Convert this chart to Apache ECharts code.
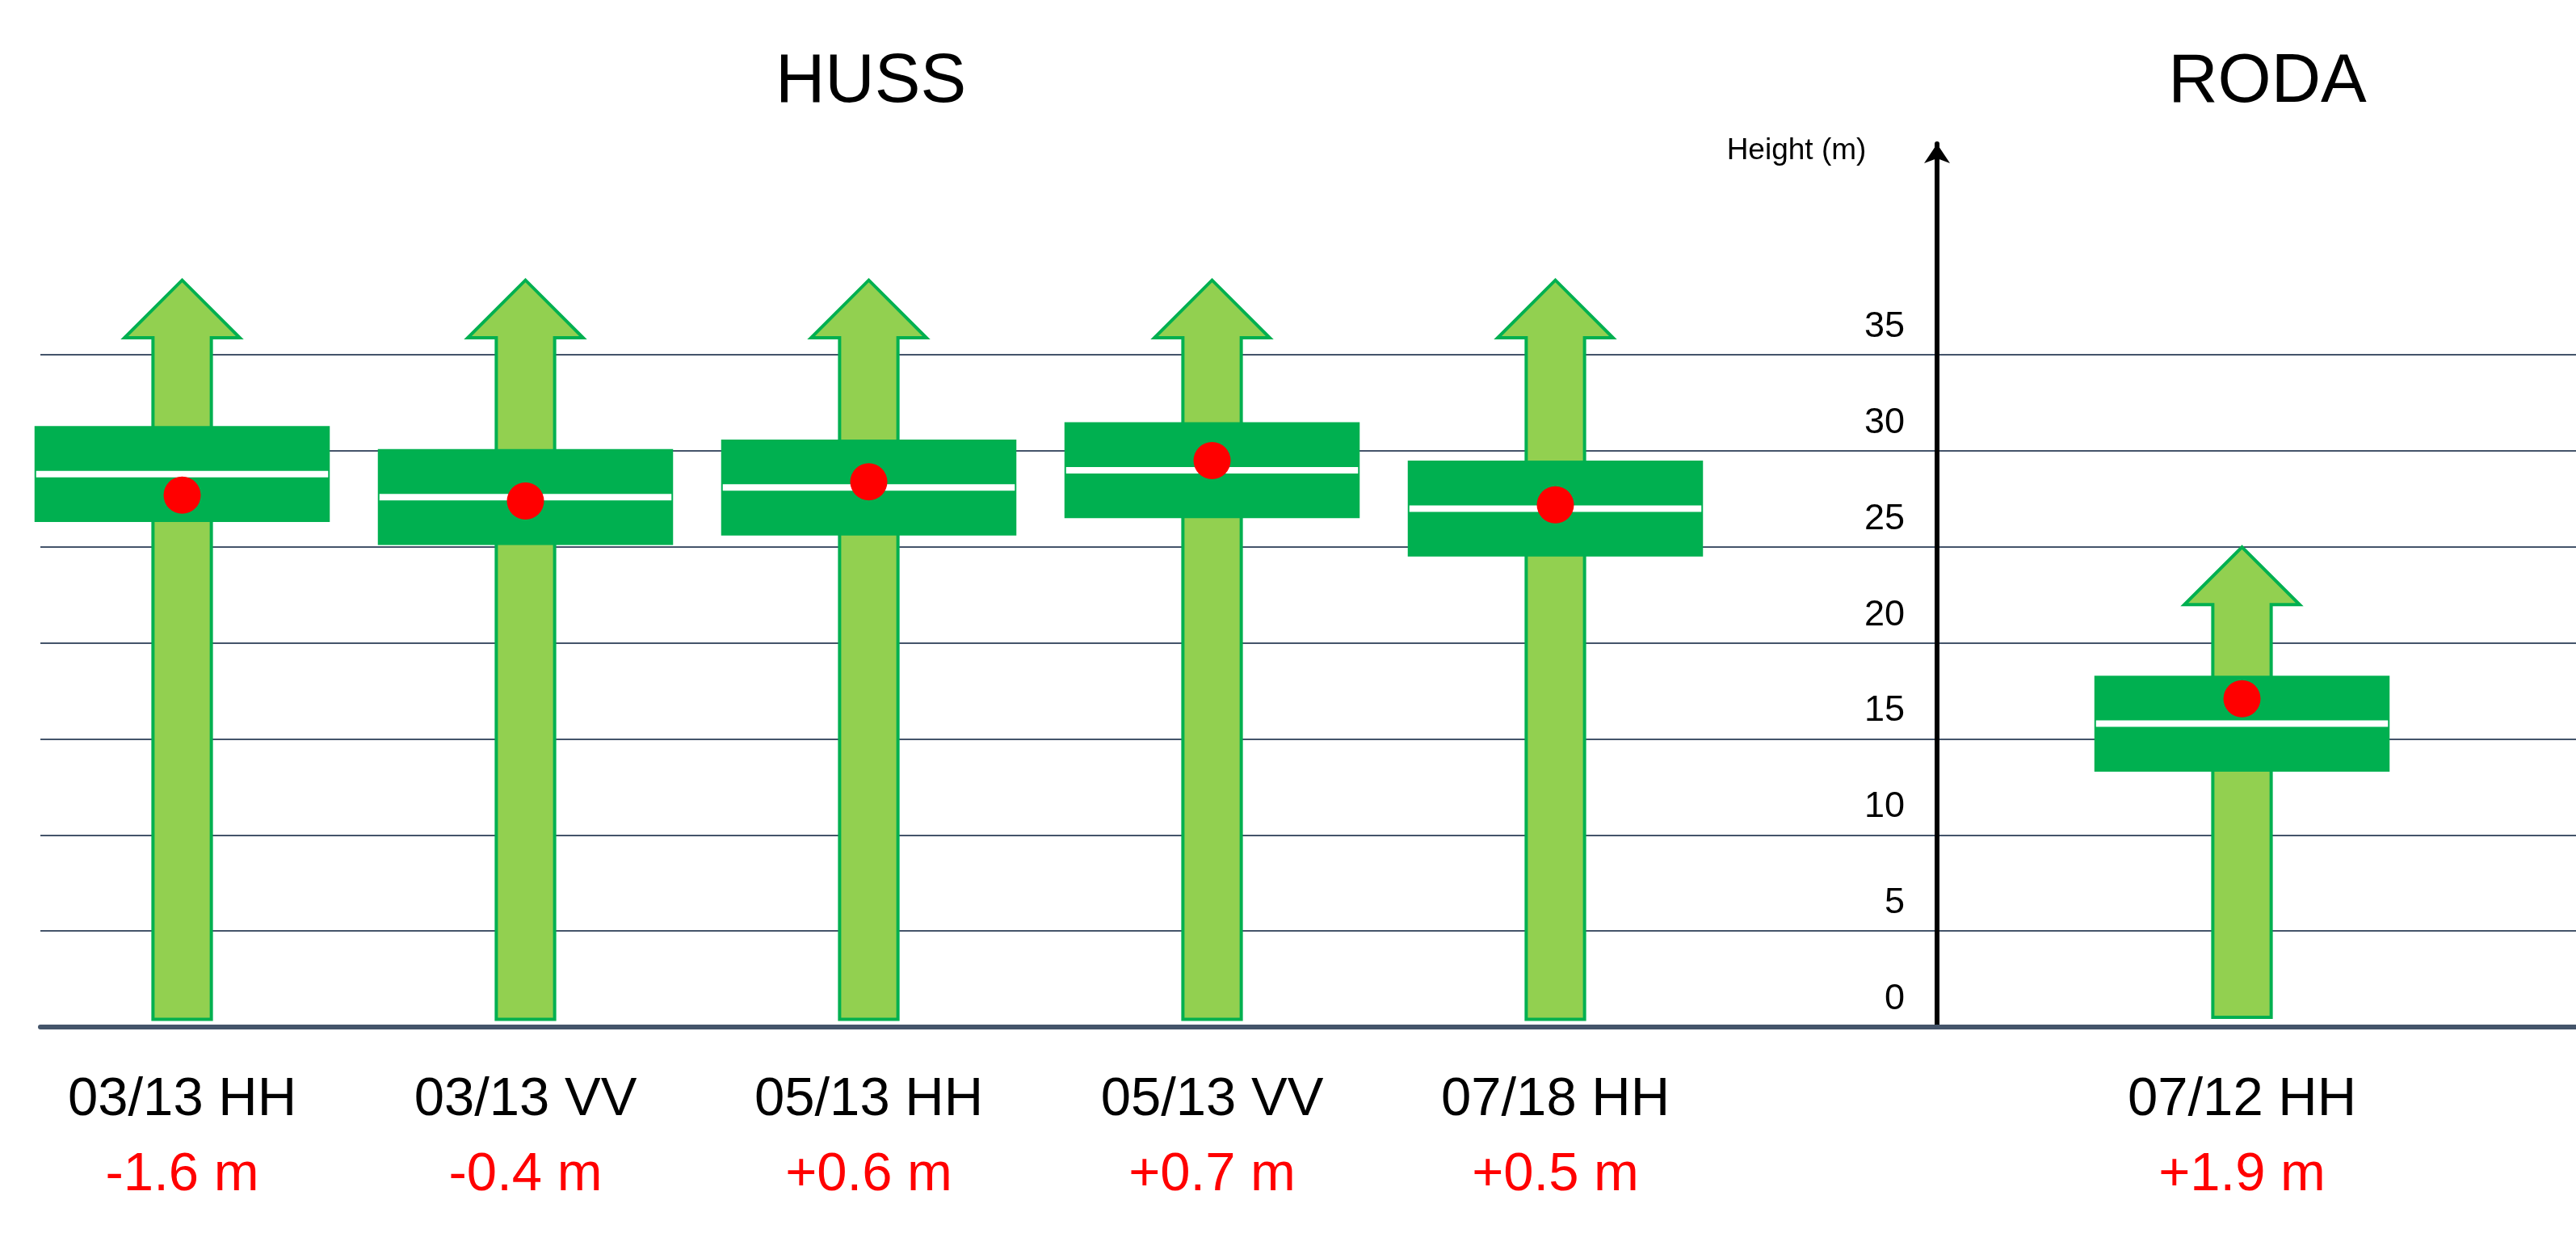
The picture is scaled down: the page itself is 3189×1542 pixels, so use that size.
<!DOCTYPE html>
<html>
<head>
<meta charset="utf-8">
<title>HUSS / RODA height</title>
<script src="https://cdn.jsdelivr.net/npm/echarts@6/dist/echarts.min.js"></script>
<style>
  html, body { margin: 0; padding: 0; background: #fff; }
  #chart { width: 3189px; height: 1542px; }
</style>
</head>
<body>
<div id="chart"></div>
<script>
// acquisitions: five over HUSS, one over RODA
const labels = ['03/13 HH', '03/13 VV', '05/13 HH', '05/13 VV', '07/18 HH', '07/12 HH'];
// axis slots, with an empty one between the two sites
const axisCategories = ['03/13 HH', '03/13 VV', '05/13 HH', '05/13 VV', '07/18 HH', '', '07/12 HH'];
const changes = ['-1.6 m', '-0.4 m', '+0.6 m', '+0.7 m', '+0.5 m', '+1.9 m'];

// arrows (m)
const arrowBottom = [0.4, 0.4, 0.4, 0.4, 0.4, 0.5];
const arrowNeck = [35.9, 35.9, 35.9, 35.9, 35.9, 22.0];
const arrowTip = [38.9, 38.9, 38.9, 38.9, 38.9, 25.0];

// boxes (m)
const boxLow = [26.3, 25.1, 25.6, 26.5, 24.5, 13.3];
const boxHigh = [31.3, 30.1, 30.6, 31.5, 29.5, 18.3];
const boxMid = [28.8, 27.6, 28.1, 29.0, 27.0, 15.8];

// red dots (m)
const dotHeight = [27.7, 27.4, 28.4, 29.5, 27.2, 17.1];

const gridMax = 35;
const axisMax = 46;
const tickStep = 5;

const FONT = 'Liberation Sans, Arial, sans-serif';

const chart = echarts.init(document.getElementById('chart'));

function renderArrow(params, api) {
  const cat = api.value(0);
  const x = api.coord([cat, 0])[0];
  const band = api.size([1, 0])[0];
  const yBot = api.coord([cat, api.value(1)])[1];
  const yNeck = api.coord([cat, api.value(2)])[1];
  const yTip = api.coord([cat, api.value(3)])[1];
  const sw = band * 0.085;
  const hw = band * 0.168;
  return {
    type: 'polygon',
    shape: {
      points: [
        [x - sw, yBot], [x + sw, yBot], [x + sw, yNeck], [x + hw, yNeck],
        [x, yTip], [x - hw, yNeck], [x - sw, yNeck]
      ]
    },
    style: { fill: '#92d050', stroke: '#00b050', lineWidth: 4 }
  };
}

function renderBox(params, api) {
  const cat = api.value(0);
  const x = api.coord([cat, 0])[0];
  const band = api.size([1, 0])[0];
  const yLow = api.coord([cat, api.value(1)])[1];
  const yHigh = api.coord([cat, api.value(2)])[1];
  const yMid = api.coord([cat, api.value(3)])[1];
  const hw = band * 0.43;
  return {
    type: 'group',
    children: [
      {
        type: 'rect',
        shape: { x: x - hw, y: yHigh, width: hw * 2, height: yLow - yHigh },
        style: { fill: '#00b050' }
      },
      {
        type: 'line',
        shape: { x1: x - hw + 2, y1: yMid, x2: x + hw - 2, y2: yMid },
        style: { stroke: '#ffffff', lineWidth: 8 }
      }
    ]
  };
}

chart.setOption({
  animation: false,
  backgroundColor: '#ffffff',
  grid: [
    // background gridlines, full width
    { left: 50, right: 0, top: 439, bottom: 271 },
    // marks
    { left: 13, width: 2975, top: 178, bottom: 271 },
    // height axis
    { left: 2398, width: 1, top: 178, bottom: 271 }
  ],
  xAxis: [
    {
      gridIndex: 0, type: 'value', min: 0, max: 1,
      axisLine: { show: true, onZero: false, lineStyle: { color: '#44546a', width: 6 } },
      axisTick: { show: false }, axisLabel: { show: false }, splitLine: { show: false }
    },
    {
      gridIndex: 1, type: 'category', data: axisCategories,
      axisLine: { show: false }, axisTick: { show: false }, splitLine: { show: false },
      axisLabel: {
        interval: 0,
        margin: 44,
        formatter: function (value) {
          const i = labels.indexOf(value);
          if (i < 0) return '';
          return '{name|' + value + '}\n{chg|' + changes[i] + '}';
        },
        rich: {
          name: { fontSize: 67, fontFamily: FONT, color: '#000000', lineHeight: 93 },
          chg: { fontSize: 67, fontFamily: FONT, color: '#ff0000', lineHeight: 93 }
        }
      }
    },
    { gridIndex: 2, type: 'value', show: false }
  ],
  yAxis: [
    {
      gridIndex: 0, type: 'value', min: 0, max: gridMax, interval: tickStep,
      axisLine: { show: false }, axisTick: { show: false }, axisLabel: { show: false },
      splitLine: { show: true, lineStyle: { color: '#44546a', width: 2 } }
    },
    { gridIndex: 1, type: 'value', min: 0, max: axisMax, show: false },
    {
      gridIndex: 2, type: 'value', min: 0, max: axisMax, interval: tickStep, position: 'left',
      axisLine: {
        show: true, symbol: ['none', 'arrow'], symbolSize: [24, 24],
        lineStyle: { color: '#000000', width: 6 }
      },
      axisTick: { show: false },
      splitLine: { show: false },
      axisLabel: {
        margin: 40,
        fontSize: 45,
        fontFamily: FONT,
        color: '#000000',
        verticalAlign: 'bottom',
        padding: [0, 0, 12, 0],
        formatter: function (v) { return v <= gridMax ? String(v) : ''; }
      }
    }
  ],
  graphic: [
    {
      type: 'text', x: 1078, y: 103,
      style: { text: 'HUSS', fontSize: 85, fontFamily: FONT, fill: '#000', textAlign: 'center', textVerticalAlign: 'middle' }
    },
    {
      type: 'text', x: 2807, y: 103,
      style: { text: 'RODA', fontSize: 85, fontFamily: FONT, fill: '#000', textAlign: 'center', textVerticalAlign: 'middle' }
    },
    {
      type: 'text', x: 2224, y: 187,
      style: { text: 'Height (m)', fontSize: 37, fontFamily: FONT, fill: '#000', textAlign: 'center', textVerticalAlign: 'middle' }
    }
  ],
  series: [
    {
      name: 'arrows', type: 'custom', xAxisIndex: 1, yAxisIndex: 1, z: 3,
      renderItem: renderArrow,
      data: labels.map((l, i) => [l, arrowBottom[i], arrowNeck[i], arrowTip[i]])
    },
    {
      name: 'boxes', type: 'custom', xAxisIndex: 1, yAxisIndex: 1, z: 4,
      renderItem: renderBox,
      data: labels.map((l, i) => [l, boxLow[i], boxHigh[i], boxMid[i]])
    },
    {
      name: 'dots', type: 'scatter', xAxisIndex: 1, yAxisIndex: 1, z: 5,
      symbolSize: 46,
      itemStyle: { color: '#ff0000', opacity: 1 },
      data: labels.map((l, i) => [l, dotHeight[i]])
    }
  ]
});
</script>
</body>
</html>
